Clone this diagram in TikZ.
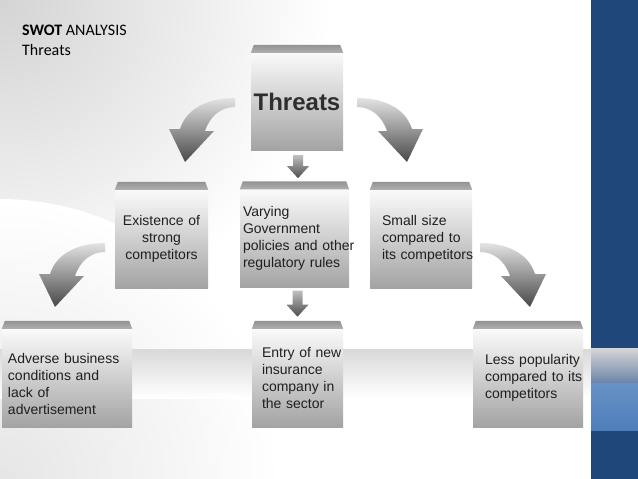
\documentclass[tikz,border=0pt]{standalone}
\usepackage{fontspec}
\setmainfont{Liberation Sans}
\newfontfamily\calibri{Carlito}
\usetikzlibrary{calc}
\definecolor{slideblue}{HTML}{1F477A}
\definecolor{paleblue}{HTML}{4E7EBB}
\definecolor{fadeblue}{HTML}{6B84A8}
\hyphenpenalty=10000
\exhyphenpenalty=10000

\begin{document}
\begin{tikzpicture}[x=1pt,y=-1pt,
  box/.style={rectangle,inner sep=0pt,top color=gray!4,bottom color=gray!72,
    minimum height=98pt,text=black!88,font=\fontsize{14}{17}\selectfont},
  droparrow/.pic={
    \shade[top color=gray!50,bottom color=black!70]
      (-5,0) -- (5,0) -- (5,#1) -- (11,#1) -- (0,#1+12) -- (-11,#1) -- (-5,#1) -- cycle;},
  bentarrow/.pic={
    \shade[top color=gray!22,bottom color=black!72]
      (50,-64) .. controls (25,-64) and (2,-55) .. (-5,-33) -- (-16,-33)
      -- (0,0) -- (29,-31) -- (20,-31)
      .. controls (25,-46) and (36,-55) .. (50,-55) -- cycle;}]
\useasboundingbox (0,0) rectangle (638,479);
% background of the slide
\fill[white] (0,0) rectangle (638,479);
\begin{scope}
\clip (0,0) rectangle (591,479);
\shade[inner color=gray!34,outer color=white] (0,0) circle (330);
\shade[inner color=gray!20,outer color=white] (0,479) circle (280);
\shade[top color=gray!30,bottom color=white] (0,349) rectangle (591,398);
\end{scope}
\fill[slideblue] (591,0) rectangle (638,479);
\shade[top color=gray!32,bottom color=fadeblue] (591,348) rectangle (638,383);
\shade[top color=paleblue!85!white,bottom color=paleblue] (591,383) rectangle (638,430);

% title
\node[anchor=base west,inner sep=0pt,font=\calibri\fontsize{16}{19}\selectfont] (title) at (22,35) {\textbf{SWOT} ANALYSIS};
\node[anchor=base west,inner sep=0pt,font=\calibri\fontsize{16}{19}\selectfont] (subtitle) at (22,55) {Threats};

% boxes
\node[box,minimum width=92pt,minimum height=97pt,text=black!82,font=\bfseries\fontsize{24}{28}\selectfont] (threats) at (297,101.5) {Threats};
\node[box,minimum width=93pt,text width=85pt,align=center] (exist) at (161.5,239) {Existence of\\strong\\competitors};
\node[box,minimum width=109pt,text width=103pt,align=left] (gov) at (294.5,238.5) {Varying\\Government\\policies~and~other\\regulatory~rules};
\node[box,minimum width=102pt,text width=78pt,align=left] (small) at (421,239) {Small size\\compared~to\\its~competitors};
\node[box,minimum width=130pt,text width=118pt,align=left] (adverse) at (67,378) {\rule{0pt}{22pt}Adverse business\\conditions and\\lack of\\advertisement};
\node[box,minimum width=91pt,text width=71pt,align=left] (entry) at (297.5,378) {Entry~of~new\\insurance\\company~in\\the sector};
\node[box,minimum width=110pt,text width=86pt,align=left] (less) at (528,378) {Less~popularity\\compared~to~its\\competitors};

% top faces
\foreach \n in {threats,exist,gov,small,adverse,entry,less}
  \shade[top color=gray!85,bottom color=gray!62]
    (\n.north west) -- ($(\n.north west)+(3,-8)$) -- ($(\n.north east)+(-3,-8)$) -- (\n.north east) -- cycle;

% arrows
\pic at ($(threats.south)+(1,5)$) {droparrow=11};
\pic at ($(gov.south)+(3,3)$) {droparrow=14};
\pic at (185,162) {bentarrow};
\pic[xscale=-1] at (407,162) {bentarrow};
\pic at (55,307) {bentarrow};
\pic[xscale=-1] at (530,307) {bentarrow};
\end{tikzpicture}
\end{document}
